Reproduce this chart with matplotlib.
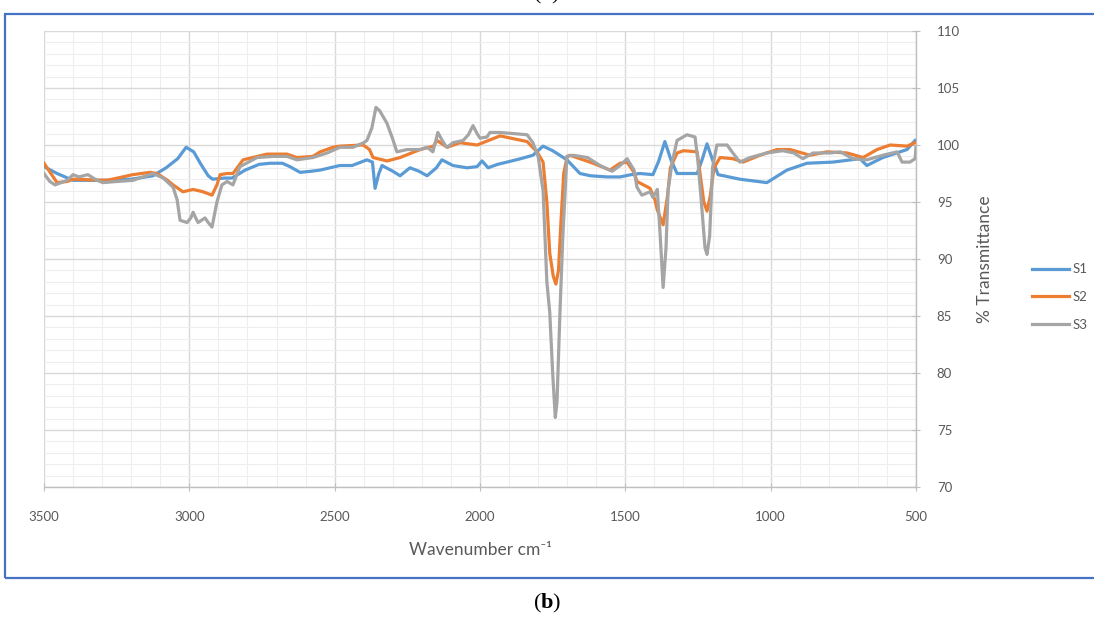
import matplotlib
matplotlib.use("Agg")
import matplotlib.pyplot as plt
from matplotlib.patches import Rectangle
from matplotlib.ticker import MultipleLocator

plt.rcParams["mathtext.fontset"] = "custom"
plt.rcParams["mathtext.rm"] = "Liberation Serif"
plt.rcParams["mathtext.bf"] = "Liberation Serif:bold"

# FTIR spectra: wavenumber (cm-1) and % transmittance for each sample
s1_wn = [3500, 3455, 3400, 3300, 3200, 3125, 3080, 3040, 3011, 2985, 2960, 2935,
         2920, 2880, 2853, 2808, 2760, 2722, 2680, 2654, 2619, 2580, 2550, 2482,
         2440, 2389, 2370, 2361, 2348, 2337, 2300, 2275, 2241, 2210, 2182, 2150,
         2131, 2093, 2045, 2010, 1993, 1972, 1940, 1907, 1860, 1818, 1783, 1750,
         1701, 1656, 1620, 1563, 1518, 1480, 1450, 1405, 1385, 1364, 1343, 1322,
         1253, 1236, 1219, 1200, 1181, 1106, 1013, 944, 875, 786, 693, 669, 614,
         531, 503]
s1_t = [98.1, 97.5, 96.9, 96.9, 97.0, 97.3, 98.0, 98.8, 99.8, 99.4, 98.3, 97.3,
        97.0, 97.1, 97.1, 97.8, 98.3, 98.4, 98.4, 98.1, 97.6, 97.7, 97.8, 98.2,
        98.2, 98.7, 98.5, 96.2, 97.5, 98.2, 97.7, 97.3, 98.0, 97.7, 97.3, 98.0,
        98.7, 98.2, 98.0, 98.1, 98.6, 98.0, 98.3, 98.5, 98.8, 99.1, 99.9, 99.5,
        98.7, 97.5, 97.3, 97.2, 97.2, 97.4, 97.5, 97.4, 98.6, 100.3, 98.7, 97.5,
        97.5, 98.7, 100.1, 98.7, 97.4, 97.0, 96.7, 97.8, 98.4, 98.5, 98.8, 98.2,
        98.9, 99.6, 100.4]

s2_wn = [3500, 3455, 3420, 3400, 3283, 3194, 3135, 3111, 3075, 3056, 3022, 2987,
         2953, 2922, 2905, 2894, 2870, 2850, 2815, 2733, 2664, 2630, 2575, 2550,
         2506, 2482, 2402, 2380, 2368, 2320, 2275, 2206, 2160, 2148, 2113, 2069,
         2010, 1931, 1838, 1804, 1783, 1770, 1760, 1748, 1739, 1730, 1722, 1712,
         1700, 1690, 1611, 1553, 1518, 1494, 1470, 1460, 1415, 1398, 1390, 1370,
         1355, 1345, 1322, 1300, 1253, 1243, 1230, 1219, 1208, 1195, 1174, 1130,
         1095, 1037, 978, 933, 865, 806, 737, 682, 634, 589, 531, 503]
s2_t = [98.4, 96.7, 96.8, 97.0, 96.9, 97.4, 97.6, 97.5, 96.9, 96.5, 95.9, 96.1,
        95.9, 95.6, 96.5, 97.4, 97.5, 97.5, 98.7, 99.2, 99.2, 98.9, 99.0, 99.4,
        99.8, 99.9, 100.0, 99.6, 98.9, 98.6, 98.9, 99.6, 99.9, 100.4, 99.8, 100.2,
        100.0, 100.8, 100.3, 99.4, 98.5, 95.0, 90.5, 88.5, 87.8, 89.0, 93.0, 97.5,
        99.0, 99.1, 98.4, 97.8, 98.4, 98.5, 97.6, 96.8, 96.2, 95.2, 94.3, 93.0,
        95.5, 98.0, 99.3, 99.5, 99.4, 97.5, 95.0, 94.2, 95.5, 98.0, 98.9, 98.8,
        98.5, 99.1, 99.6, 99.6, 99.1, 99.4, 99.3, 98.9, 99.6, 100.0, 99.9, 100.2]

s3_wn = [3500, 3480, 3462, 3420, 3400, 3380, 3349, 3318, 3297, 3249, 3194, 3125,
         3090, 3056, 3042, 3032, 3008, 2995, 2987, 2978, 2970, 2946, 2935, 2922,
         2905, 2888, 2870, 2850, 2826, 2767, 2712, 2664, 2630, 2575, 2526, 2482,
         2437, 2400, 2389, 2372, 2358, 2345, 2320, 2300, 2286, 2251, 2206, 2182,
         2162, 2145, 2130, 2120, 2113, 2093, 2058, 2040, 2024, 2010, 2000, 1976,
         1966, 1931, 1838, 1818, 1800, 1783, 1770, 1760, 1750, 1741, 1735, 1725,
         1715, 1705, 1701, 1680, 1630, 1587, 1545, 1518, 1494, 1470, 1460, 1443,
         1415, 1405, 1390, 1380, 1370, 1360, 1353, 1339, 1322, 1288, 1260, 1250,
         1240, 1226, 1219, 1210, 1200, 1185, 1150, 1130, 1106, 1071, 1013, 958,
         920, 889, 854, 796, 760, 717, 669, 614, 565, 548, 521, 503, 500]
s3_t = [97.5, 96.8, 96.5, 96.9, 97.4, 97.2, 97.4, 96.9, 96.7, 96.8, 96.9, 97.5,
        97.1, 96.3, 95.2, 93.4, 93.2, 93.6, 94.1, 93.6, 93.2, 93.6, 93.2, 92.8,
        95.0, 96.5, 96.8, 96.5, 98.1, 98.9, 99.0, 99.0, 98.7, 98.9, 99.3, 99.8,
        99.8, 100.2, 100.4, 101.5, 103.3, 103.0, 101.9, 100.5, 99.4, 99.6, 99.6, 99.8,
        99.4, 101.1, 100.4, 100.0, 99.8, 100.2, 100.4, 100.9, 101.7, 101.0, 100.6, 100.7,
        101.1, 101.1, 100.9, 100.2, 99.0, 96.0, 88.0, 85.3, 80.0, 76.1, 77.5, 85.3,
        92.0, 97.0, 99.0, 99.1, 98.9, 98.2, 97.7, 98.2, 98.8, 97.8, 96.3, 95.6,
        95.9, 95.4, 96.1, 92.0, 87.5, 91.0, 96.0, 98.5, 100.4, 100.9, 100.7, 98.5,
        95.5, 91.0, 90.4, 92.0, 98.0, 100.0, 100.0, 99.3, 98.5, 98.9, 99.3, 99.5,
        99.3, 98.8, 99.3, 99.3, 99.4, 98.8, 98.7, 99.1, 99.4, 98.5, 98.5, 98.8, 99.8]

series = [("S1", s1_wn, s1_t, "#5B9BD5"),
          ("S2", s2_wn, s2_t, "#ED7D31"),
          ("S3", s3_wn, s3_t, "#A5A5A5")]

x_ticks = [3500, 3000, 2500, 2000, 1500, 1000, 500]
y_ticks = [70, 75, 80, 85, 90, 95, 100, 105, 110]

txt = "#595959"
font = ["Lato", "DejaVu Sans"]

fig = plt.figure(figsize=(10.94, 6.17), dpi=100)
ax = fig.add_axes([44 / 1094, 1 - 487 / 617, 872 / 1094, 456 / 617])

for name, wn, t, c in series:
    ax.plot(wn, t, color=c, lw=2.3, label=name, solid_joinstyle="round", zorder=3)

ax.set_xlim(3500, 500)
ax.set_ylim(70, 110)
ax.set_xticks(x_ticks)
ax.set_yticks(y_ticks)
ax.xaxis.set_minor_locator(MultipleLocator(100))
ax.yaxis.set_minor_locator(MultipleLocator(1))
ax.grid(which="major", color="#d9d9d9", lw=1.0, zorder=0)
ax.grid(which="minor", color="#eeeeee", lw=0.8, zorder=0)
ax.set_axisbelow(True)

ax.yaxis.tick_right()
ax.yaxis.set_label_position("right")
for s in ["left", "top"]:
    ax.spines[s].set_visible(False)
for s in ["right", "bottom"]:
    ax.spines[s].set_color("#bfbfbf")
    ax.spines[s].set_linewidth(1.0)
ax.tick_params(which="major", direction="inout", length=6, color="#bfbfbf",
               labelcolor=txt, labelsize=9.5)
ax.tick_params(which="minor", length=0)
ax.tick_params(axis="x", pad=14)
ax.tick_params(axis="y", pad=12)
for lab in ax.get_xticklabels() + ax.get_yticklabels():
    lab.set_family(font)

ax.set_xlabel("Wavenumber cm\u207b\u00b9", color=txt, fontsize=12.5, family=font,
              labelpad=14)
ax.set_ylabel("% Transmittance", color=txt, fontsize=12.5, family=font, labelpad=12)

leg = fig.legend(loc="center left", bbox_to_anchor=(1020 / 1094, 1 - 297 / 617),
                 frameon=False, handlelength=2.8, handletextpad=0.3,
                 labelspacing=1.2, prop={"family": font, "size": 9.5})
for t in leg.get_texts():
    t.set_color(txt)

# outer frame around the chart
fig.add_artist(Rectangle((5 / 1094, 1 - 578 / 617), 1.02, 564 / 617,
                         transform=fig.transFigure, fill=False,
                         edgecolor="#4472C4", lw=1.6, clip_on=False))

# panel captions
fig.text(0.5, 1 - 6 / 617, r"($\mathbf{a}$)", ha="center", va="bottom",
         family="Liberation Serif", fontsize=16)
fig.text(547 / 1094, 1 - 603 / 617, r"($\mathbf{b}$)", ha="center", va="center",
         family="Liberation Serif", fontsize=16)

fig.savefig("out.png", dpi=100)
